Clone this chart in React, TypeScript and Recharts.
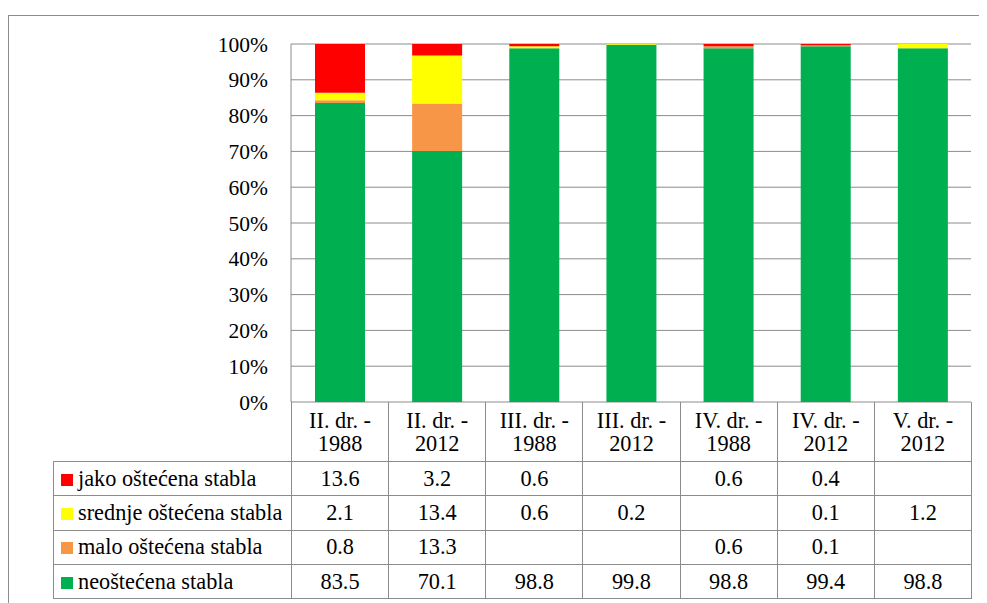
import { Bar, BarChart, CartesianGrid, XAxis, YAxis } from 'recharts';

const categories = [
  'II. dr. - 1988',
  'II. dr. - 2012',
  'III. dr. - 1988',
  'III. dr. - 2012',
  'IV. dr. - 1988',
  'IV. dr. - 2012',
  'V. dr. - 2012',
];

const jako = [13.6, 3.2, 0.6, null, 0.6, 0.4, null];
const srednje = [2.1, 13.4, 0.6, 0.2, null, 0.1, 1.2];
const malo = [0.8, 13.3, null, null, 0.6, 0.1, null];
const neostecena = [83.5, 70.1, 98.8, 99.8, 98.8, 99.4, 98.8];

const yTicks = [0, 10, 20, 30, 40, 50, 60, 70, 80, 90, 100];

// table rows top to bottom, stack order is the reverse
const series = [
  { key: 'jako', name: 'jako oštećena stabla', color: '#FF0000', values: jako },
  { key: 'srednje', name: 'srednje oštećena stabla', color: '#FFFF00', values: srednje },
  { key: 'malo', name: 'malo oštećena stabla', color: '#F79646', values: malo },
  { key: 'neo', name: 'neoštećena stabla', color: '#00B050', values: neostecena },
];

const data = categories.map((name, i) => {
  const row: Record<string, string | number> = { name };
  series.forEach((s) => {
    row[s.key] = s.values[i] ?? 0;
  });
  return row;
});

const FONT = 'Liberation Serif';
const FS = 21.5;
const TABLE_FS = 22.3;
const LINE = '#8c8c8c';
const W = 979;
const PLOT_LEFT = 283;
const PLOT_RIGHT = 963;
const PLOT_TOP = 36;
const PLOT_BOTTOM = 394;
const COL = (PLOT_RIGHT - PLOT_LEFT) / categories.length;
const LEGEND_LEFT = 45;
const HEADER_H = 59;
const ROW_H = 34.3;

const cell = {
  border: `1px solid ${LINE}`,
  padding: 0,
  textAlign: 'center' as const,
  height: ROW_H,
  boxSizing: 'border-box' as const,
};

export default function App() {
  return (
    <div
      style={{
        position: 'relative',
        width: W,
        height: 595,
        overflow: 'hidden',
        fontFamily: FONT,
        fontSize: FS,
        color: '#000',
      }}
    >
      <div
        style={{
          position: 'absolute',
          left: 0,
          top: 7,
          width: 1000,
          height: 700,
          border: `1px solid ${LINE}`,
        }}
      />
      <div style={{ position: 'absolute', left: 0, top: 0 }}>
        <BarChart
          width={W}
          height={PLOT_BOTTOM + 26}
          data={data}
          margin={{ top: PLOT_TOP, right: W - PLOT_RIGHT, left: 0, bottom: 26 }}
          barSize={50}
        >
          <CartesianGrid vertical={false} stroke={LINE} />
          <XAxis dataKey="name" hide />
          <YAxis
            width={PLOT_LEFT}
            domain={[0, 100]}
            ticks={yTicks}
            interval={0}
            tickFormatter={(v) => `${v}%`}
            tickLine={false}
            tickSize={0}
            tickMargin={23}
            axisLine={{ stroke: LINE }}
            tick={{ fill: '#000', fontSize: FS, fontFamily: FONT }}
          />
          {[...series].reverse().map((s) => (
            <Bar
              key={s.key}
              dataKey={s.key}
              stackId="a"
              fill={s.color}
              isAnimationActive={false}
            />
          ))}
        </BarChart>
      </div>
      <table
        style={{
          position: 'absolute',
          left: LEGEND_LEFT,
          top: PLOT_BOTTOM,
          borderCollapse: 'collapse',
          tableLayout: 'fixed',
          width: PLOT_RIGHT - LEGEND_LEFT,
          fontFamily: FONT,
          fontSize: TABLE_FS,
        }}
      >
        <colgroup>
          <col style={{ width: PLOT_LEFT - LEGEND_LEFT }} />
          {categories.map((c) => (
            <col key={c} style={{ width: COL }} />
          ))}
        </colgroup>
        <tbody>
          <tr>
            <td style={{ padding: 0, height: HEADER_H, borderBottom: `1px solid ${LINE}` }} />
            {categories.map((c) => {
              const [a, b] = c.split(' - ');
              return (
                <td
                  key={c}
                  style={{
                    ...cell,
                    height: HEADER_H,
                    borderTop: 'none',
                    lineHeight: '23px',
                  }}
                >
                  {a} -<br />
                  {b}
                </td>
              );
            })}
          </tr>
          {series.map((s) => (
            <tr key={s.key}>
              <td style={{ ...cell, textAlign: 'left', whiteSpace: 'nowrap' }}>
                <span
                  style={{
                    display: 'inline-block',
                    width: 12,
                    height: 12,
                    background: s.color,
                    marginLeft: 7,
                    marginRight: 5,
                  }}
                />
                {s.name}
              </td>
              {s.values.map((v, i) => (
                <td key={i} style={cell}>
                  {v == null ? '' : v.toFixed(1)}
                </td>
              ))}
            </tr>
          ))}
        </tbody>
      </table>
    </div>
  );
}
